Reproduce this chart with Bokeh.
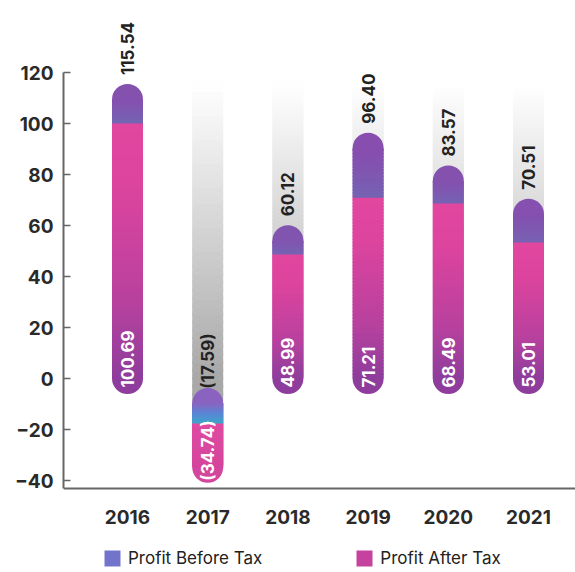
import numpy as np
from bokeh.plotting import figure
from bokeh.models import ColumnDataSource, Range1d, FixedTicker, Legend, LegendItem
from bokeh.core.properties import value
from bokeh.embed import file_html
from bokeh.resources import INLINE

# ---- data ----
years = [2016, 2017, 2018, 2019, 2020, 2021]
profit_before_tax = [115.54, -17.59, 60.12, 96.40, 83.57, 70.51]
profit_after_tax = [100.69, -34.74, 48.99, 71.21, 68.49, 53.01]
y_ticks = [-40, -20, 0, 20, 40, 60, 80, 100, 120]
series_names = ["Profit Before Tax", "Profit After Tax"]

# ---- layout constants ----
FONT = "Inter"
PX_Y = 2.55            # pixels per y unit
PX_X = 80.2            # pixels per year
FRAME_W, FRAME_H = 512, 562
AXIS_PX_FROM_TOP = 478  # x-axis line position inside frame
BAR_PX = 31
Y1 = -43.1 + AXIS_PX_FROM_TOP / PX_Y
Y_AXIS = -43.1
Y0 = Y1 - FRAME_H / PX_Y
X0 = years[0] - 64 / PX_X
X1 = X0 + FRAME_W / PX_X
BAR_W = BAR_PX / PX_X
R = (BAR_PX / 2) / PX_Y   # cap radius in y units


def hex2rgb(h):
    return tuple(int(h[i:i + 2], 16) for i in (1, 3, 5))


def grad(stops, t):
    t = min(max(t, 0.0), 1.0)
    for (t0, c0), (t1, c1) in zip(stops[:-1], stops[1:]):
        if t <= t1:
            f = 0 if t1 == t0 else (t - t0) / (t1 - t0)
            a, b = hex2rgb(c0), hex2rgb(c1)
            return "#%02x%02x%02x" % tuple(int(round(a[i] + (b[i] - a[i]) * f)) for i in range(3))
    return stops[-1][1]


PINK = [(0, "#8E3D9C"), (0.3, "#B8419E"), (0.75, "#DC449E"), (1, "#E2479F")]
PURPLE = [(0, "#7563B3"), (0.4, "#8055B0"), (1, "#8C48AE")]
NEG_PBT = [(0, "#8A63C0"), (0.5, "#5A86D6"), (1, "#3DA5C9")]
NEG_PAT = [(0, "#E04BA2"), (1, "#D4459C")]
GHOST_TOP = max(profit_before_tax)


def ghost_color(y):
    f = min(max(1 - y / GHOST_TOP, 0), 1)
    g = int(round(255 - f * 87))
    return "#%02x%02x%02x" % (g, g, g)


p = figure(frame_width=FRAME_W, frame_height=FRAME_H, x_range=Range1d(X0, X1), y_range=Range1d(Y0, Y1),
           output_backend="svg", toolbar_location=None,
           min_border_left=63, min_border_right=0, min_border_top=10, min_border_bottom=0)
p.xgrid.visible = False
p.ygrid.visible = False
p.outline_line_color = None
p.background_fill_color = "white"
p.border_fill_color = "white"

ghost = dict(x=[], bottom=[], top=[], color=[])
body = dict(x=[], bottom=[], top=[], color=[])
caps = dict(x=[], y=[], color=[])
N = 70
legend_idx = {}

for yr, pbt, pat in zip(years, profit_before_tax, profit_after_tax):
    if pbt >= 0:
        lo, hi = 0.0, max(pbt, pat) - R
        def col(y, pbt=pbt, pat=pat):
            if y <= pat:
                return grad(PINK, y / pat)
            return grad(PURPLE, (y - pat) / (pbt - pat))
        bar_top_edge = max(pbt, pat)
    else:
        lo, hi = min(pbt, pat), -1.6 * R
        def col(y, pbt=pbt, pat=pat, hi=hi):
            if y >= pbt:
                return grad(NEG_PBT, (hi - y) / (hi - pbt))
            return grad(NEG_PAT, (pbt - y) / (pbt - pat))
        bar_top_edge = hi + R
    # ghost column above the bar
    if bar_top_edge < GHOST_TOP:
        edges = np.linspace(bar_top_edge - R, GHOST_TOP, 41)
        for a, b in zip(edges[:-1], edges[1:]):
            ghost["x"].append(yr); ghost["bottom"].append(a); ghost["top"].append(b + 1.0)
            ghost["color"].append(ghost_color((a + b) / 2))
    caps["x"] += [yr, yr]
    caps["y"] += [lo, hi]
    caps["color"] += [col(lo), col(hi)]
    edges = np.linspace(lo, hi, N + 1)
    for a, b in zip(edges[:-1], edges[1:]):
        mid = (a + b) / 2
        # remember a representative slice for each legend swatch
        if pbt < 0 and "pbt" not in legend_idx and mid >= pbt * 0.68:
            legend_idx["pbt"] = len(body["x"])
        if pbt >= 0 and "pat" not in legend_idx and mid >= pat * 0.45:
            legend_idx["pat"] = len(body["x"])
        body["x"].append(yr); body["bottom"].append(a); body["top"].append(min(b + 1.0, hi))
        body["color"].append(col(mid))

p.vbar(x="x", bottom="bottom", top="top", width=BAR_W, fill_color="color", line_color=None,
       source=ColumnDataSource(ghost))
p.scatter(x="x", y="y", size=BAR_PX, fill_color="color", line_color=None, marker="circle",
          source=ColumnDataSource(caps))
r_body = p.vbar(x="x", bottom="bottom", top="top", width=BAR_W, fill_color="color", line_color=None,
                source=ColumnDataSource(body))

# ---- value labels ----
def fmt(v):
    return f"{v:.2f}" if v >= 0 else f"({abs(v):.2f})"

top_lbl = dict(x=[], y=[], text=[])
in_lbl = dict(x=[], y=[], text=[])
for yr, pbt, pat in zip(years, profit_before_tax, profit_after_tax):
    if pbt >= 0:
        top_lbl["x"].append(yr); top_lbl["y"].append(pbt + 3.5); top_lbl["text"].append(fmt(pbt))
    else:
        top_lbl["x"].append(yr); top_lbl["y"].append(-4.0); top_lbl["text"].append(fmt(pbt))
    if pat >= 0:
        in_lbl["x"].append(yr); in_lbl["y"].append(-3.5); in_lbl["text"].append(fmt(pat))
    else:
        in_lbl["x"].append(yr); in_lbl["y"].append(pat - 5.3); in_lbl["text"].append(fmt(pat))

p.text(x="x", y="y", text="text", source=ColumnDataSource(top_lbl), angle=np.pi / 2,
       text_align="left", text_baseline="middle", text_font=value(FONT), text_font_size="17px",
       text_font_style="bold", text_color="#222222")
p.text(x="x", y="y", text="text", source=ColumnDataSource(in_lbl), angle=np.pi / 2,
       text_align="left", text_baseline="middle", text_font=value(FONT), text_font_size="17px",
       text_font_style="bold", text_color="white")

# ---- axes ----
p.yaxis.ticker = FixedTicker(ticks=y_ticks)
p.yaxis.bounds = (Y_AXIS, max(y_ticks))
p.yaxis.major_tick_in = 7
p.yaxis.major_tick_out = 0
p.yaxis.minor_tick_line_color = None
p.yaxis.major_tick_line_color = "#666666"
p.yaxis.major_tick_line_width = 1.5
p.yaxis.axis_line_color = "#666666"
p.yaxis.axis_line_width = 2
p.yaxis.major_label_standoff = 10
p.yaxis.major_label_text_font = FONT
p.yaxis.major_label_text_font_size = "19px"
p.yaxis.major_label_text_font_style = "bold"
p.yaxis.major_label_text_color = "#2a2a2a"

p.xaxis.fixed_location = Y_AXIS
p.xaxis.ticker = FixedTicker(ticks=years)
p.xaxis.major_tick_line_color = None
p.xaxis.minor_tick_line_color = None
p.xaxis.axis_line_color = "#666666"
p.xaxis.axis_line_width = 2
p.xaxis.major_label_standoff = 15
p.xaxis.major_label_text_font = FONT
p.xaxis.major_label_text_font_size = "19px"
p.xaxis.major_label_text_font_style = "bold"
p.xaxis.major_label_text_color = "#2a2a2a"

# ---- legend (swatches taken from representative bar slices) ----
legend = Legend(items=[LegendItem(label=series_names[0], renderers=[r_body], index=legend_idx["pbt"]),
                       LegendItem(label=series_names[1], renderers=[r_body], index=legend_idx["pat"])],
                orientation="horizontal", location=(39, 4), spacing=92,
                glyph_width=20, glyph_height=20, label_standoff=6,
                label_text_font=FONT, label_text_font_size="17px", label_text_color="#222222",
                border_line_color=None, background_fill_alpha=0, padding=0, margin=0)
p.add_layout(legend, "center")

open("out.html", "w").write(file_html(p, INLINE))
